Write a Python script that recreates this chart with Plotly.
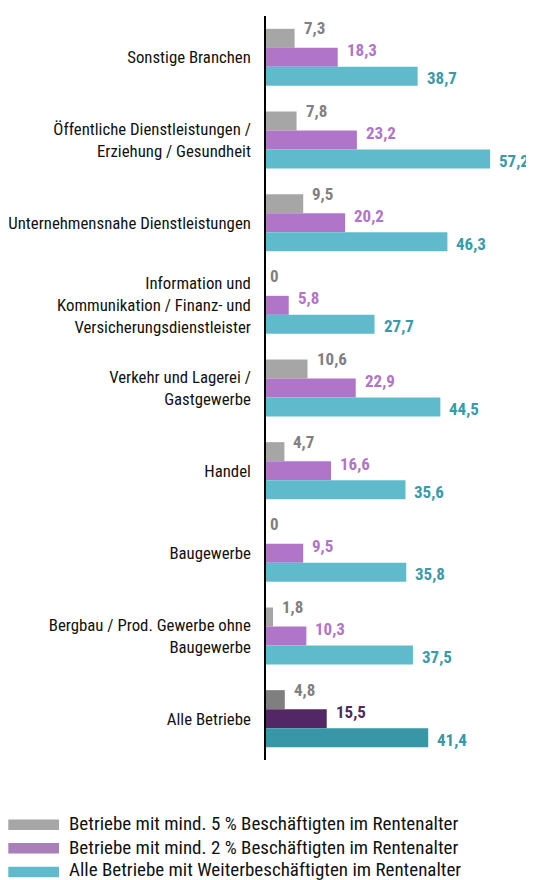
import plotly.graph_objects as go

categories = [
    "Sonstige Branchen",
    "Öffentliche Dienstleistungen /<br>Erziehung / Gesundheit",
    "Unternehmensnahe Dienstleistungen",
    "Information und<br>Kommunikation / Finanz- und<br>Versicherungsdienstleister",
    "Verkehr und Lagerei /<br>Gastgewerbe",
    "Handel",
    "Baugewerbe",
    "Bergbau / Prod. Gewerbe ohne<br>Baugewerbe",
    "Alle Betriebe",
]
series_names = [
    "Betriebe mit mind. 5 % Beschäftigten im Rentenalter",
    "Betriebe mit mind. 2 % Beschäftigten im Rentenalter",
    "Alle Betriebe mit Weiterbeschäftigten im Rentenalter",
]
vals_5 = [7.3, 7.8, 9.5, 0, 10.6, 4.7, 0, 1.8, 4.8]
vals_2 = [18.3, 23.2, 20.2, 5.8, 22.9, 16.6, 9.5, 10.3, 15.5]
vals_all = [38.7, 57.2, 46.3, 27.7, 44.5, 35.6, 35.8, 37.5, 41.4]

bar_colors = ["#a6a6a6", "#b075c8", "#5fbbcb"]
dark_colors = ["#7f7f7f", "#532766", "#3897a6"]
label_colors = ["#808080", "#b075c8", "#3a9aaa"]
dark_label_colors = ["#808080", "#532766", "#3897a6"]
legend_colors = ["#a6a6a6", "#a87fb8", "#5fbbcb"]

FONT = "Roboto Condensed, Liberation Sans Narrow, sans-serif"

# page has an 8px body margin: figure is sized to fill the rest of the window
OFF = 8
FIG_W, FIG_H = 534 - OFF, 880 - OFF
L_REF, TOP_REF, BOT_REF = 266, 15.6, 760.4   # plot area in window pixels
W = 534 - L_REF
H = BOT_REF - TOP_REF

fig = go.Figure()
all_series = [vals_5, vals_2, vals_all]
for i, vals in enumerate(all_series):
    cols = [bar_colors[i]] * (len(vals) - 1) + [dark_colors[i]]
    fig.add_trace(go.Bar(
        y=categories, x=vals, orientation="h", name=series_names[i],
        marker=dict(color=cols, line=dict(width=0)),
        showlegend=False, hoverinfo="x+name",
    ))

# value labels
yshifts = [29, 7, -21]
annotations = []
for i, vals in enumerate(all_series):
    for j, (c, v) in enumerate(zip(categories, vals)):
        col = dark_label_colors[i] if j == len(vals) - 1 else label_colors[i]
        annotations.append(dict(
            x=v, y=c, xref="x", yref="y",
            text=f"{v:.1f}".replace(".", ",") if v != 0 else "0",
            showarrow=False, xanchor="left", yanchor="middle",
            xshift=7 if v != 0 else 2, yshift=yshifts[i],
            font=dict(family=FONT, size=17, color=col, weight="bold"),
        ))

def px_x(p):
    return (p - L_REF) / W

def px_y(p):
    return (BOT_REF - p) / H

# legend drawn below the plot
shapes = []
sw_y = [825.3, 848.8, 872.5]
txt_y = [823.5, 847.5, 870.5]
for i, name in enumerate(series_names):
    shapes.append(dict(type="rect", xref="paper", yref="paper",
                       x0=px_x(8.3), x1=px_x(59), y0=px_y(sw_y[i] + 5.3), y1=px_y(sw_y[i] - 5.3),
                       fillcolor=legend_colors[i], line=dict(width=0)))
    annotations.append(dict(x=px_x(67), y=px_y(txt_y[i]), xref="paper", yref="paper",
                            text=name, showarrow=False, xanchor="left", yanchor="middle",
                            font=dict(family=FONT, size=19, color="#111111")))

fig.update_layout(
    width=FIG_W, height=FIG_H,
    margin=dict(l=L_REF - OFF, r=0, t=TOP_REF - OFF, b=FIG_H - (BOT_REF - OFF), pad=0),
    paper_bgcolor="white", plot_bgcolor="white",
    barmode="group", bargap=0.31, bargroupgap=0,
    font=dict(family=FONT, size=16.8, color="#111111"),
    xaxis=dict(range=[0, 68.4], visible=False, showgrid=False, zeroline=False),
    yaxis=dict(autorange="reversed", showline=True, linecolor="#000000", linewidth=1.5,
               showgrid=False, ticks="", ticklabelstandoff=10, automargin=False,
               tickfont=dict(family=FONT, size=16.8, color="#111111")),
    shapes=shapes, annotations=annotations, showlegend=False,
)

fig.write_html("out.html")
